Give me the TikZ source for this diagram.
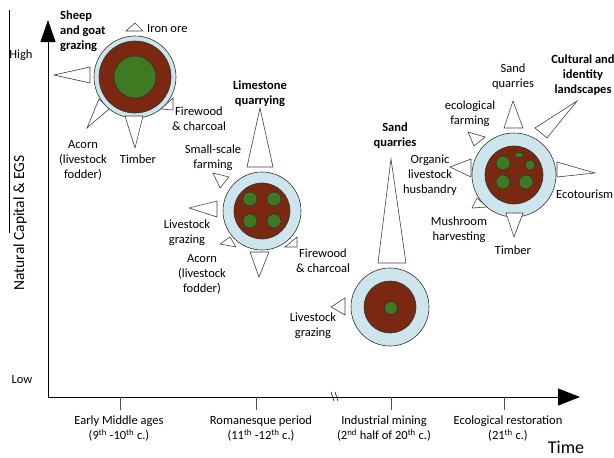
\documentclass[tikz,border=0pt]{standalone}
\usepackage{fontspec}
\setmainfont{Carlito}
\usetikzlibrary{arrows.meta}
\definecolor{skyblue}{RGB}{205,229,236}
\definecolor{soilbrown}{RGB}{122,40,18}
\definecolor{patchgreen}{RGB}{62,122,34}
\begin{document}
\begin{tikzpicture}[x=1pt,y=-1pt,
    lbl/.style={align=center,inner sep=0pt,font=\fontsize{12.5}{15}\selectfont},
    blbl/.style={lbl,font=\fontsize{12.5}{15}\selectfont\bfseries},
    spoke/.style={draw=black!75,fill=white,line width=0.6pt},
    sky/.style={draw=black!80,fill=skyblue,line width=0.6pt},
    soil/.style={draw=black!80,fill=soilbrown,line width=0.6pt},
    patch/.style={draw=black!80,fill=patchgreen,line width=0.6pt}]
  \useasboundingbox (0,0) rectangle (614,458);

  % axes
  \coordinate (origin) at (48,397);
  \coordinate (ytip) at (48,20);
  \coordinate (xtip) at (580,397);
  \draw[line width=1pt,-{Triangle[length=22pt,width=15pt]}] (origin) -- (ytip);
  \draw[line width=1pt,-{Triangle[length=22pt,width=17pt]}] (origin) -- (xtip);
  \draw[line width=0.5pt] (331,392) -- (334,401) (335,392) -- (338,401);
  \draw[line width=0.6pt] (9,10) -- (9,233);
  \foreach \x in {120,256,391,504}
    \draw[line width=0.5pt,black!70] (\x,397) -- (\x,410);

  \node[lbl] (high) at (21,55) {High};
  \node[lbl] (low) at (22,380) {Low};
  \node[lbl,rotate=90,font=\fontsize{15.5}{18}\selectfont] (ytitle) at (20,223) {Natural Capital \& EGS};
  \node[lbl,font=\fontsize{18}{20}\selectfont] (time) at (566,447) {Time};
  \node[lbl] (early) at (119,429) {Early Middle ages\\(9\textsuperscript{th} -10\textsuperscript{th} c.)};
  \node[lbl] (roman) at (261,429) {Romanesque period\\(11\textsuperscript{th} -12\textsuperscript{th} c.)};
  \node[lbl] (indus) at (384,429) {Industrial mining\\(2\textsuperscript{nd} half of 20\textsuperscript{th} c.)};
  \node[lbl] (ecol) at (508,429) {Ecological restoration\\(21\textsuperscript{th} c.)};

  % early middle ages
  \draw[sky] (135,77) circle (41pt);
  \draw[soil] (135,77) circle (36pt);
  \draw[patch] (135,77) circle (21pt);
  \draw[spoke] (126,31) -- (135,23) -- (143,31) -- cycle;
  \draw[spoke] (90,67) -- (54,75) -- (90,83) -- cycle;
  \draw[spoke] (99,99) -- (87,128) -- (109,109) -- cycle;
  \draw[spoke] (125,116) -- (135,148) -- (143,116) -- cycle;
  \draw[spoke] (161,109) -- (173,98) -- (173,110) -- cycle;
  \node[lbl,anchor=west] (iron) at (147,29) {Iron ore};
  \node[blbl,align=left,anchor=west] (sheep) at (60,31) {Sheep\\and goat\\grazing};
  \node[lbl] (acorn1) at (83,160) {Acorn\\(livestock\\fodder)};
  \node[lbl] (timber1) at (138,159) {Timber};
  \node[lbl] (fire1) at (199,119) {Firewood\\\& charcoal};

  % romanesque period
  \draw[sky] (262,211) circle (39pt);
  \draw[soil] (262,211) circle (28pt);
  \foreach \dx/\dy in {-12/-12,12/-12,-12/10,12/10}
    \draw[patch] (262+\dx,211+\dy) circle (7pt);
  \draw[spoke] (247,167) -- (260,108) -- (273,167) -- cycle;
  \draw[spoke] (213,173) -- (229,177) -- (220,188) -- cycle;
  \draw[spoke] (217,201) -- (189,208) -- (217,217) -- cycle;
  \draw[spoke] (220,244) -- (230,237) -- (236,247) -- cycle;
  \draw[spoke] (250,252) -- (259,277) -- (269,252) -- cycle;
  \draw[spoke] (285,247) -- (297,237) -- (297,247) -- cycle;
  \node[blbl] (lime) at (260,94) {Limestone\\quarrying};
  \node[lbl] (small) at (213,158) {Small-scale\\farming};
  \node[lbl] (graze2) at (187,233) {Livestock\\grazing};
  \node[lbl] (acorn2) at (202,274) {Acorn\\(livestock\\fodder)};
  \node[lbl] (fire2) at (323,261) {Firewood\\\& charcoal};

  % industrial mining
  \draw[sky] (390,307) circle (39pt);
  \draw[soil] (390,307) circle (26pt);
  \draw[patch] (391,308) circle (6.5pt);
  \draw[spoke] (378,263) -- (391,159) -- (406,263) -- cycle;
  \draw[spoke] (345,298) -- (331,307) -- (345,315) -- cycle;
  \node[blbl] (sand3) at (395,136) {Sand\\quarries};
  \node[lbl] (graze3) at (313,326) {Livestock\\grazing};

  % ecological restoration
  \draw[sky] (514,175) circle (42pt);
  \draw[soil] (514,175) circle (29pt);
  \draw[patch] (503,163) circle (7pt);
  \draw[patch] (519,155) ellipse (4.5pt and 2.5pt);
  \draw[patch] (530,165) circle (5pt);
  \draw[patch] (503,182) circle (7pt);
  \draw[patch] (526,182) circle (7pt);
  \draw[spoke] (504,128) -- (513,101) -- (523,128) -- cycle;
  \draw[spoke] (535,128) -- (577,101) -- (547,138) -- cycle;
  \draw[spoke] (468,132) -- (485,137) -- (474,146) -- cycle;
  \draw[spoke] (471,159) -- (450,167) -- (471,177) -- cycle;
  \draw[spoke] (472,208) -- (477,198) -- (487,207) -- cycle;
  \draw[spoke] (506,213) -- (514,237) -- (523,213) -- cycle;
  \draw[spoke] (557,162) -- (595,173) -- (557,177) -- cycle;
  \node[lbl] (sand4) at (513,77) {Sand\\quarries};
  \node[blbl] (cult) at (583,75) {Cultural and\\identity\\landscapes};
  \node[lbl] (ecofarm) at (470,114) {ecological\\farming};
  \node[lbl] (organic) at (430,175) {Organic\\livestock\\husbandry};
  \node[lbl] (mush) at (459,230) {Mushroom\\harvesting};
  \node[lbl] (timber4) at (513,250) {Timber};
  \node[lbl,anchor=west] (ecot) at (556,194) {Ecotourism};
\end{tikzpicture}
\end{document}
